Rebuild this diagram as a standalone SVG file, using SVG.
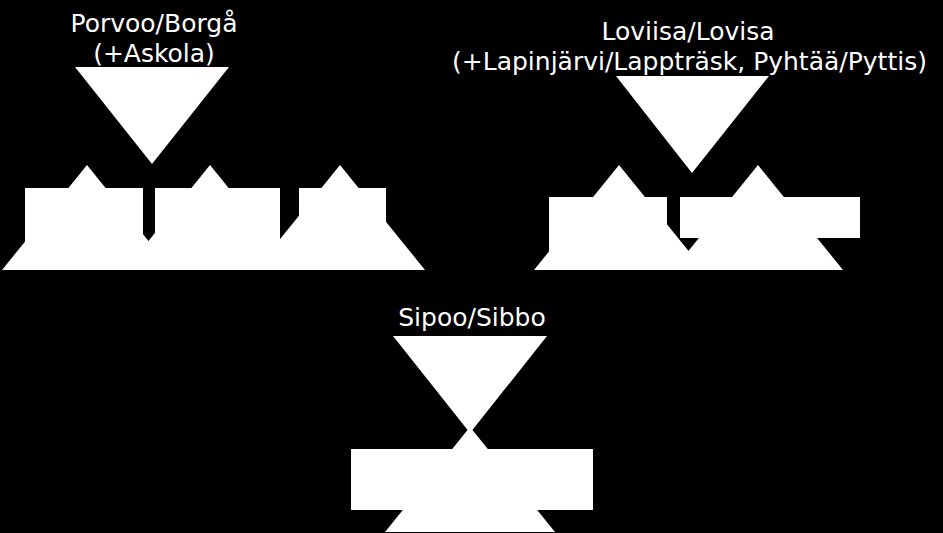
<svg xmlns="http://www.w3.org/2000/svg" width="943" height="533" viewBox="0 0 943 533">
  <style>
    .shape { fill: #ffffff; stroke: none; }
    .label { fill: #ffffff; font-family: "DejaVu Sans", "Liberation Sans", sans-serif; font-size: 25px; text-anchor: middle; }
  </style>
  <rect x="0" y="0" width="943" height="533" fill="#000000"/>
  <g id="connectors"/>

  <!-- Porvoo / Borgå cluster -->
  <g id="porvoo">
    <text class="label" x="154" y="32">Porvoo/Borgå</text>
    <text class="label" x="154" y="62">(+Askola)</text>
    <polygon class="shape" points="75,67 229,67 152,164"/>
  </g>
  <g id="porvoo-house-1">
    <polygon class="shape" points="87,165 172,270 2,270"/>
    <rect class="shape" x="25" y="188" width="118" height="62"/>
  </g>
  <g id="porvoo-house-2">
    <polygon class="shape" points="210,165 295,270 125,270"/>
    <rect class="shape" x="155" y="188" width="125" height="62"/>
  </g>
  <g id="porvoo-house-3">
    <polygon class="shape" points="340,165 425,270 255,270"/>
    <rect class="shape" x="299" y="188" width="87" height="62"/>
  </g>

  <!-- Loviisa / Lovisa cluster -->
  <g id="loviisa">
    <text class="label" x="688" y="39.5">Loviisa/Lovisa</text>
    <text class="label" x="689.5" y="69.5">(+Lapinjärvi/Lappträsk, Pyhtää/Pyttis)</text>
    <polygon class="shape" points="616,76 769,76 692,173"/>
  </g>
  <g id="loviisa-house-1">
    <polygon class="shape" points="619,165 704,270 534,270"/>
    <rect class="shape" x="549" y="197" width="118" height="61"/>
  </g>
  <g id="loviisa-house-2">
    <polygon class="shape" points="758,165 843,270 673,270"/>
    <rect class="shape" x="680" y="197" width="180" height="41"/>
  </g>

  <!-- Sipoo / Sibbo cluster -->
  <g id="sipoo">
    <text class="label" x="472" y="326">Sipoo/Sibbo</text>
    <polygon class="shape" points="393,336 547,336 470,433"/>
  </g>
  <g id="sipoo-house-1">
    <polygon class="shape" points="470,427 555,532 385,532"/>
    <rect class="shape" x="351" y="449" width="242" height="61"/>
  </g>
</svg>
